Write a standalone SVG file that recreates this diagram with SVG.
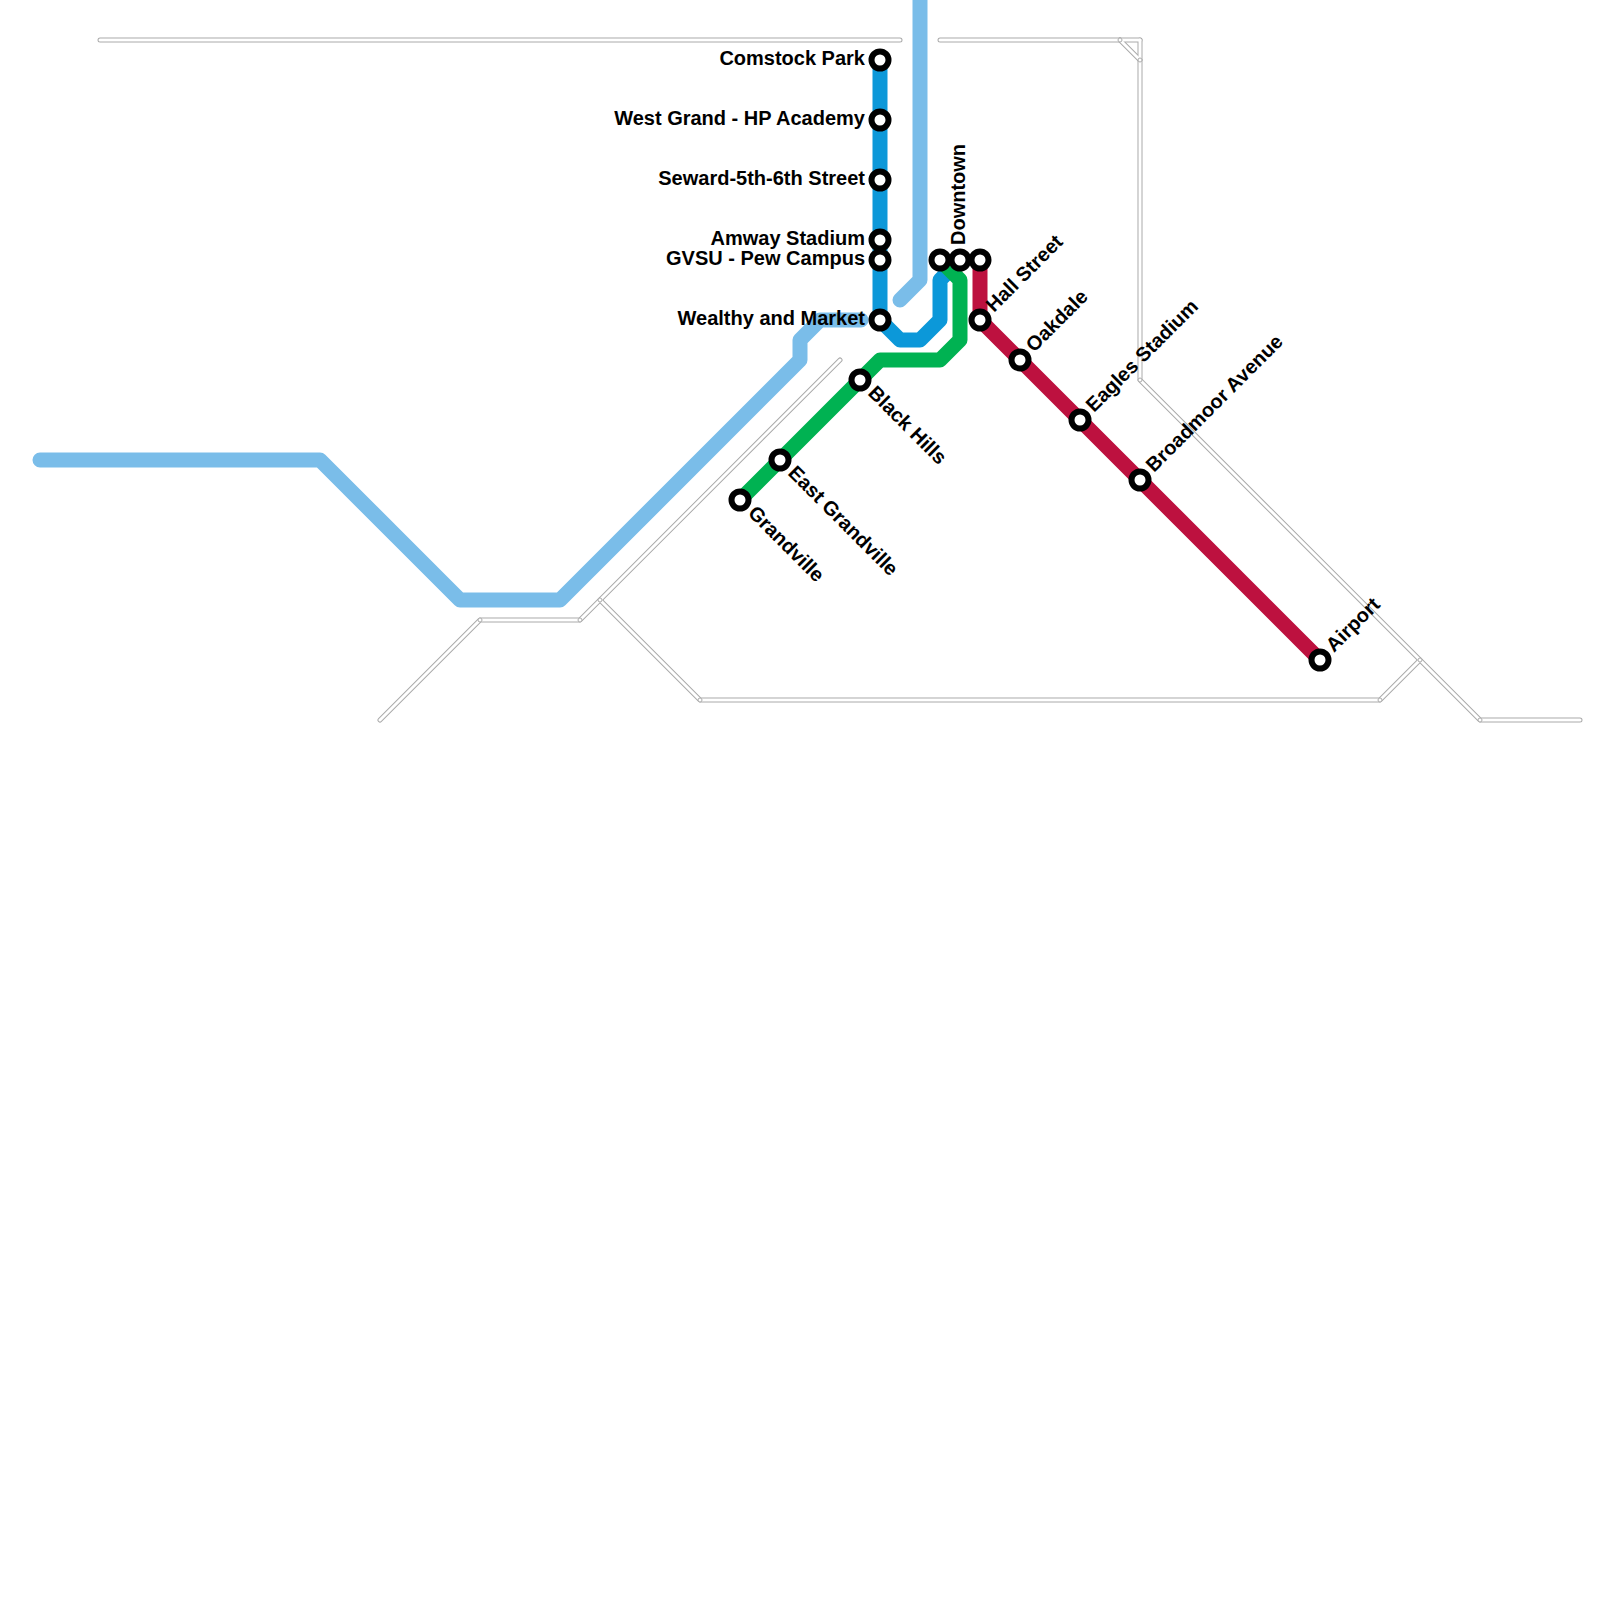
<svg xmlns="http://www.w3.org/2000/svg" width="1600" height="1600" viewBox="0 0 1600 1600">
<style>
.bg{fill:none;stroke:#aaa;stroke-width:5;stroke-linecap:round;stroke-linejoin:round}
.bgi{fill:none;stroke:#fff;stroke-width:3;stroke-linecap:round;stroke-linejoin:round}
.j{fill:#fff;stroke:#aaa;stroke-width:1}
.ln{fill:none;stroke-width:15;stroke-linecap:round;stroke-linejoin:round}
.st{fill:#fff;stroke:#000;stroke-width:6}
text{font-family:"Liberation Sans",Arial,sans-serif;font-weight:700;font-size:20px;fill:#000}
.e{text-anchor:end}
</style>
<rect width="1600" height="1600" fill="#fff"/>
<defs>
<g id="water">
<path d="M100 40H900"/><path d="M940 40H1140"/><path d="M1120 40L1140 60"/>
<path d="M1140 40V380L1480 720H1580"/>
<path d="M380 720L480 620H580L840 360"/>
<path d="M600 600L700 700H1380L1420 660"/>
</g>
<circle id="s" r="8.5" class="st"/>
<circle id="jt" r="2" class="j"/>
</defs>
<g id="connectors">
<use href="#water" class="bg"/>
<use href="#water" class="bgi"/>
<use href="#jt" x="480" y="620"/><use href="#jt" x="580" y="620"/><use href="#jt" x="600" y="600"/><use href="#jt" x="700" y="700"/><use href="#jt" x="1380" y="700"/><use href="#jt" x="1420" y="660"/><use href="#jt" x="1480" y="720"/><use href="#jt" x="1140" y="380"/><use href="#jt" x="1120" y="40"/><use href="#jt" x="1140" y="60"/>
<path class="ln" stroke="#7abde9" d="M40 460H320L460 600H560L800 360V340L820 320H861"/>
<path class="ln" stroke="#7abde9" d="M920 0V280L900 300"/>
<path class="ln" stroke="#0c98d9" d="M880 60V320L900 340H920L940 320V280L950 270"/>
<path class="ln" stroke="#bd113f" d="M980 260V320L1320 660"/>
<path class="ln" stroke="#00b252" d="M740 500L880 360H940L960 340V280L940 260"/>
</g>
<g id="n-comstock"><use href="#s" x="880" y="60"/><text class="e" x="865" y="65">Comstock Park</text></g>
<g id="n-westgrand"><use href="#s" x="880" y="120"/><text class="e" x="865" y="125">West Grand - HP Academy</text></g>
<g id="n-seward"><use href="#s" x="880" y="180"/><text class="e" x="865" y="185">Seward-5th-6th Street</text></g>
<g id="n-amway"><use href="#s" x="880" y="240"/><text class="e" x="865" y="245">Amway Stadium</text></g>
<g id="n-gvsu"><use href="#s" x="880" y="260"/><text class="e" x="865" y="265">GVSU - Pew Campus</text></g>
<g id="n-wealthy"><use href="#s" x="880" y="320"/><text class="e" x="865" y="325">Wealthy and Market</text></g>
<g id="n-dt1"><use href="#s" x="940" y="260"/></g>
<g id="n-downtown"><use href="#s" x="960" y="260"/><text transform="translate(965 245) rotate(-90)">Downtown</text></g>
<g id="n-dt3"><use href="#s" x="980" y="260"/></g>
<g id="n-hall"><use href="#s" x="980" y="320"/><text transform="translate(994 313) rotate(-45)">Hall Street</text></g>
<g id="n-oakdale"><use href="#s" x="1020" y="360"/><text transform="translate(1034 353) rotate(-45)">Oakdale</text></g>
<g id="n-eagles"><use href="#s" x="1080" y="420"/><text transform="translate(1094 413) rotate(-45)">Eagles Stadium</text></g>
<g id="n-broadmoor"><use href="#s" x="1140" y="480"/><text transform="translate(1154 473) rotate(-45)">Broadmoor Avenue</text></g>
<g id="n-airport"><use href="#s" x="1320" y="660"/><text transform="translate(1334 653) rotate(-45)">Airport</text></g>
<g id="n-blackhills"><use href="#s" x="860" y="380"/><text transform="translate(867 394) rotate(45)">Black Hills</text></g>
<g id="n-eastgrandville"><use href="#s" x="780" y="460"/><text transform="translate(787 474) rotate(45)">East Grandville</text></g>
<g id="n-grandville"><use href="#s" x="740" y="500"/><text transform="translate(747 514) rotate(45)">Grandville</text></g>
</svg>
